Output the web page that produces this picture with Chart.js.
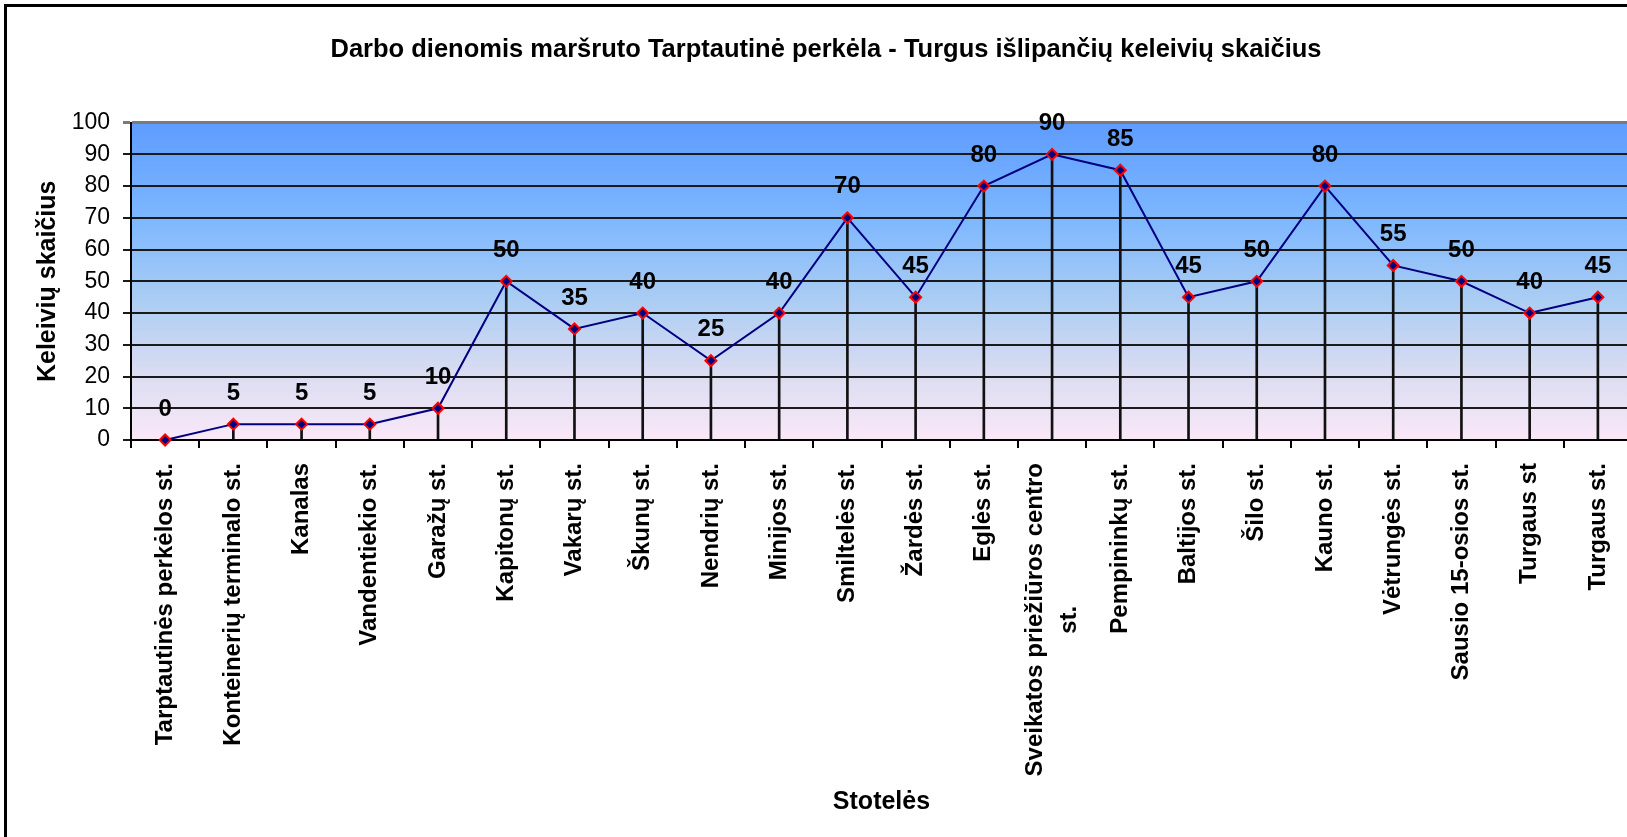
<!DOCTYPE html>
<html>
<head>
<meta charset="utf-8">
<script src="https://cdn.jsdelivr.net/npm/chart.js@4"></script>
<style>
  html, body { margin: 0; padding: 0; overflow: hidden; background: #fff; }
  #wrap { position: absolute; left: 0; top: 0; width: 1652px; height: 837px; }
  #frame { position: absolute; left: 4px; top: 4px; width: 1700px; height: 900px; border: 3px solid #000; pointer-events: none; }
</style>
</head>
<body>
<div id="wrap"><canvas id="chart" width="1652" height="837"></canvas></div>
<div id="frame"></div>
<script>
// stotelės (kategorijos)
var stoteles = [
    'Tarptautinės perkėlos st.',
    'Konteinerių terminalo st.',
    'Kanalas',
    'Vandentiekio st.',
    'Garažų st.',
    'Kapitonų st.',
    'Vakarų st.',
    'Škunų st.',
    'Nendrių st.',
    'Minijos st.',
    'Smiltelės st.',
    'Žardės st.',
    'Eglės st.',
    ['Sveikatos priežiūros centro', 'st.'],
    'Pempininkų st.',
    'Baltijos st.',
    'Šilo st.',
    'Kauno st.',
    'Vėtrungės st.',
    'Sausio 15-osios st.',
    'Turgaus st',
    'Turgaus st.'
];
// išlipančių keleivių skaičius
var keleiviai = [0, 5, 5, 5, 10, 50, 35, 40, 25, 40, 70, 45, 80, 90, 85, 45, 50, 80, 55, 50, 40, 45];
var yTicks = [0, 10, 20, 30, 40, 50, 60, 70, 80, 90, 100];

var fontFam = '"Liberation Sans", Arial, sans-serif';

// plot area background gradient
var bgPlugin = {
    id: 'bg',
    beforeDraw: function (chart) {
        var a = chart.chartArea, c = chart.ctx;
        var g = c.createLinearGradient(0, a.top, 0, a.bottom);
        g.addColorStop(0, '#5E9CFF');
        g.addColorStop(0.3, '#7DB7FF');
        g.addColorStop(0.55, '#A9CCF3');
        g.addColorStop(0.8, '#DCDDF2');
        g.addColorStop(1, '#FAE8F8');
        c.save();
        c.fillStyle = g;
        c.fillRect(a.left, a.top, a.right - a.left, a.bottom - a.top);
        c.restore();
    }
};

// value labels above points
var valuePlugin = {
    id: 'values',
    afterDatasetsDraw: function (chart) {
        var c = chart.ctx;
        var meta = chart.getDatasetMeta(0);
        c.save();
        c.font = 'bold 24px ' + fontFam;
        c.fillStyle = '#000';
        c.textAlign = 'center';
        c.textBaseline = 'middle';
        meta.data.forEach(function (pt, i) {
            c.fillText(String(keleiviai[i]), pt.x, pt.y - 31);
        });
        c.restore();
    }
};

// rotated category labels
var xLabelPlugin = {
    id: 'xlabels',
    afterDraw: function (chart) {
        var c = chart.ctx, sx = chart.scales.x;
        var top = chart.chartArea.bottom + 23;
        c.save();
        c.font = 'bold 24px ' + fontFam;
        c.fillStyle = '#000';
        c.textBaseline = 'middle';
        stoteles.forEach(function (lab, i) {
            var x = sx.getPixelForTick(i);
            if (Array.isArray(lab)) {
                var w = c.measureText(lab[0]).width;
                c.save();
                c.translate(x - 17, top);
                c.rotate(-Math.PI / 2);
                c.textAlign = 'right';
                c.fillText(lab[0], 0, 0);
                c.restore();
                c.save();
                c.translate(x + 17, top);
                c.rotate(-Math.PI / 2);
                c.textAlign = 'center';
                c.fillText(lab[1], -w / 2, 0);
                c.restore();
            } else {
                c.save();
                c.translate(x, top);
                c.rotate(-Math.PI / 2);
                c.textAlign = 'right';
                c.fillText(lab, 0, 0);
                c.restore();
            }
        });
        c.restore();
    }
};

var ctx = document.getElementById('chart');
var chart = new Chart(ctx, {
    data: {
        labels: stoteles,
        datasets: [{
            type: 'line',
            data: keleiviai,
            order: 0,
            borderColor: '#000080',
            borderWidth: 2,
            pointStyle: 'rectRot',
            pointRadius: 5.5,
            pointBorderWidth: 2,
            pointBorderColor: '#FF0000',
            pointBackgroundColor: '#000080',
            tension: 0,
            clip: false
        }, {
            type: 'bar',
            data: keleiviai,
            order: 1,
            backgroundColor: '#111',
            barThickness: 2
        }]
    },
    options: {
        responsive: false,
        animation: false,
        events: [],
        layout: { padding: { left: 20, right: 20, top: 0, bottom: 0 } },
        plugins: {
            legend: { display: false },
            tooltip: { enabled: false },
            title: {
                display: true,
                text: 'Darbo dienomis maršruto Tarptautinė perkėla - Turgus išlipančių keleivių skaičius',
                color: '#000',
                font: { family: fontFam, size: 25.5, weight: 'bold' },
                padding: { top: 35, bottom: 57 }
            }
        },
        scales: {
            x: {
                offset: true,
                grid: {
                    offset: true,
                    drawOnChartArea: false,
                    drawTicks: true,
                    tickLength: 8,
                    color: '#000',
                    lineWidth: 2
                },
                border: { color: '#000', width: 2 },
                ticks: { display: false, autoSkip: false },
                title: {
                    display: true,
                    text: 'Stotelės',
                    color: '#000',
                    font: { family: fontFam, size: 25, weight: 'bold' },
                    padding: { top: 0, bottom: 20 }
                },
                afterFit: function (s) { s.height = 397; }
            },
            y: {
                min: 0,
                max: 100,
                afterBuildTicks: function (s) {
                    s.ticks = yTicks.map(function (v) { return { value: v }; });
                },
                grid: {
                    color: function (c) { return c.tick && c.tick.value === 100 ? '#7a7a7a' : '#1a1a1a'; },
                    lineWidth: function (c) { return c.tick && c.tick.value === 100 ? 3 : 2; },
                    tickLength: 8
                },
                border: { color: '#000', width: 2 },
                ticks: {
                    color: '#000',
                    padding: 13,
                    font: { family: fontFam, size: 23 }
                },
                title: {
                    display: true,
                    text: 'Keleivių skaičius',
                    color: '#000',
                    font: { family: fontFam, size: 25, weight: 'bold' },
                    padding: { top: 13, bottom: 0 }
                },
                afterFit: function (s) { s.width = 111; }
            }
        }
    },
    plugins: [bgPlugin, valuePlugin, xLabelPlugin]
});
</script>
</body>
</html>
